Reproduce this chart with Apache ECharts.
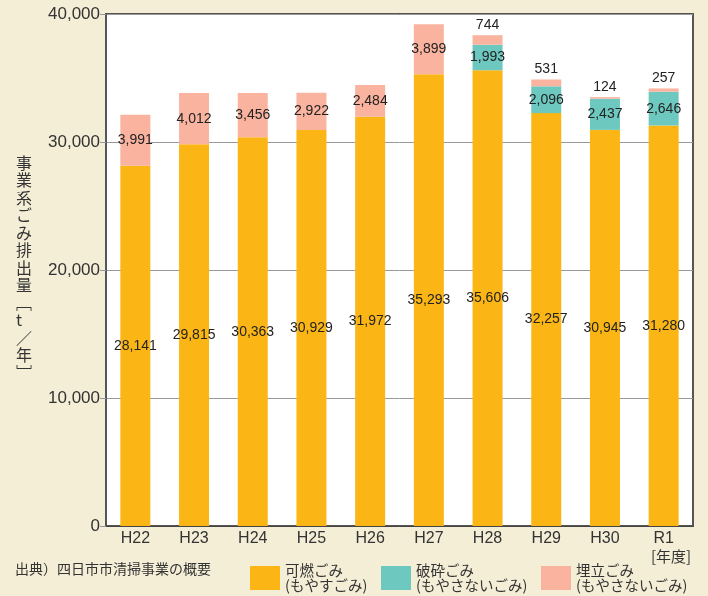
<!DOCTYPE html>
<html>
<head>
<meta charset="utf-8">
<script src="https://cdn.jsdelivr.net/npm/echarts@6/dist/echarts.min.js"></script>
<style>
  html, body { margin: 0; padding: 0; background: #f4eed7; }
  #main { width: 708px; height: 596px; }
</style>
</head>
<body>
<div id="main"></div>
<script>
var years = ['H22', 'H23', 'H24', 'H25', 'H26', 'H27', 'H28', 'H29', 'H30', 'R1'];
var burnable = [28141, 29815, 30363, 30929, 31972, 35293, 35606, 32257, 30945, 31280];
var crushed = ['-', '-', '-', '-', '-', '-', 1993, 2096, 2437, 2646];
var landfill = [3991, 4012, 3456, 2922, 2484, 3899, 744, 531, 124, 257];
var yTicks = [0, 10000, 20000, 30000, 40000];

var myChart = echarts.init(document.getElementById('main'));

var numFont = '"Liberation Sans", Arial, sans-serif';
var jpFont = '"Noto Sans CJK JP", sans-serif';

var barLabel = {
  show: true,
  position: 'inside',
  color: '#222',
  fontSize: 14,
  fontFamily: numFont,
  formatter: function (p) { return p.value.toLocaleString('en-US'); }
};

function legendAt(left, name) {
  return {
    data: [name],
    left: left,
    top: 563,
    padding: 0,
    itemWidth: 30,
    itemHeight: 24,
    icon: 'rect',
    selectedMode: false,
    formatter: function (n) {
      return n === '可燃ごみ' ? '可燃ごみ\n(もやすごみ)' : n + '\n(もやさないごみ)';
    },
    textStyle: { color: '#333', fontSize: 14.5, lineHeight: 15, fontFamily: jpFont }
  };
}

var option = {
  backgroundColor: '#f4eed7',
  grid: {
    left: 106, right: 15, top: 14, bottom: 70,
    show: true,
    backgroundColor: '#fff',
    borderColor: '#555',
    borderWidth: 2
  },
  legend: [
    legendAt(250, '可燃ごみ'),
    legendAt(381, '破砕ごみ'),
    legendAt(541, '埋立ごみ')
  ],
  xAxis: {
    type: 'category',
    data: years,
    axisLine: { lineStyle: { color: '#444', width: 1 } },
    axisTick: { inside: true, length: 11, lineStyle: { color: '#333' } },
    axisLabel: { color: '#333', fontSize: 16, margin: 5, fontFamily: numFont }
  },
  yAxis: {
    type: 'value',
    min: 0,
    max: 40000,
    interval: 10000,
    axisLine: { show: true, lineStyle: { color: '#555', width: 2 } },
    axisTick: { show: true, length: 6, lineStyle: { color: '#999' } },
    splitLine: { lineStyle: { color: '#999' } },
    axisLabel: {
      color: '#333', fontSize: 17, margin: 6,
      fontFamily: numFont,
      formatter: function (v) { return yTicks.indexOf(v) >= 0 ? v.toLocaleString('en-US') : ''; }
    }
  },
  series: [
    {
      name: '可燃ごみ', type: 'bar', stack: 'total', barWidth: 30,
      itemStyle: { color: '#fbb615' },
      label: barLabel,
      data: burnable
    },
    {
      name: '破砕ごみ', type: 'bar', stack: 'total', barWidth: 30,
      itemStyle: { color: '#6dc9bf' },
      label: barLabel,
      data: crushed
    },
    {
      name: '埋立ごみ', type: 'bar', stack: 'total', barWidth: 30,
      itemStyle: { color: '#f9b39e' },
      label: barLabel,
      data: landfill.map(function (v) {
        return { value: v, label: { position: v < 1000 ? 'top' : 'inside', distance: 3 } };
      })
    }
  ],
  graphic: [
    {
      type: 'text', left: 15, top: 562,
      style: { text: '出典）四日市市清掃事業の概要', fill: '#333', fontSize: 14, fontFamily: jpFont }
    },
    {
      type: 'text', left: 651, top: 549,
      style: { text: '[年度]', fill: '#333', fontSize: 15, fontFamily: jpFont }
    },
    {
      type: 'text', left: 16, top: 154,
      style: {
        text: '事業系ごみ排出量﹇t／年﹈'.split('').join('\n'),
        fill: '#333', fontSize: 16, lineHeight: 17.5, align: 'center', fontFamily: jpFont
      }
    }
  ]
};

myChart.setOption(option);
</script>
</body>
</html>
